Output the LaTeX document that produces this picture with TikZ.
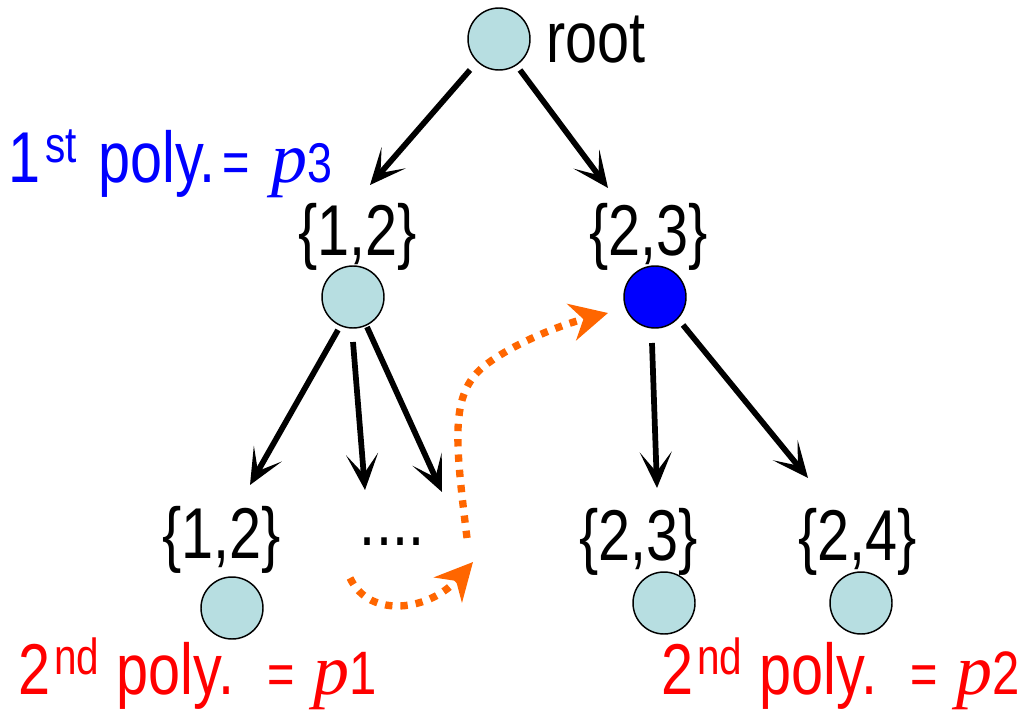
\documentclass[tikz,border=0pt]{standalone}
\usepackage{fontspec}
\setmainfont[FakeStretch=0.8]{Liberation Sans}
\newfontfamily\pfont{Liberation Serif}
\usetikzlibrary{arrows.meta,calc}
\definecolor{nodefill}{RGB}{183,222,225}
\definecolor{porange}{RGB}{255,102,0}
\definecolor{pblue}{RGB}{0,0,255}
\definecolor{pred}{RGB}{255,0,0}
\newcommand{\bigtxt}{\fontsize{54}{60}\selectfont}
\newcommand{\suptxt}[1]{\raisebox{15pt}{\fontsize{38}{38}\selectfont #1}}
\newcommand{\midtxt}[2]{{\fontsize{#1}{#1}\selectfont #2}}
\newcommand{\pvar}{{\pfont\itshape p}}
\begin{document}
\begin{tikzpicture}[x=0.75pt,y=-0.75pt,
  vert/.style={circle,draw=black,line width=1.1pt,fill=nodefill,minimum size=46.5pt,inner sep=0pt},
  setlabel/.style={anchor=base,inner sep=0pt,font=\bigtxt},
  polylabel/.style={anchor=base west,inner sep=0pt,font=\bigtxt},
  treearrow/.style={line width=4.3pt,-{Stealth[length=27pt,width=24pt,inset=15pt]}},
  hop/.style={porange,line width=5.5pt,dash pattern=on 5.5pt off 6pt,-{Stealth[length=28pt,width=28pt,inset=9pt]}},
]
\useasboundingbox (0,0) rectangle (1020,713);

% vertices
\node[vert] (root) at (499,39) {};
\node[vert] (c12) at (353,297) {};
\node[vert,fill=pblue] (cB) at (655,297) {};
\node[vert] (c12b) at (232,608) {};
\node[vert] (c23b) at (664,603) {};
\node[vert] (c24b) at (861,603) {};

% labels
\node[polylabel] (rootl) at (546,63) {root};
\node[setlabel] (l12) at (357.5,255) {\{1,2\}};
\node[setlabel] (l23) at (648.5,255) {\{2,3\}};
\node[setlabel] (l12b) at (221.5,558) {\{1,2\}};
\node[setlabel] (dots) at (392,545) {....};
\node[setlabel] (l23b) at (638.5,560) {\{2,3\}};
\node[setlabel] (l24b) at (857.5,560) {\{2,4\}};

\node[polylabel,text=pblue] (first) at (8,182) {1\hspace{4pt}\suptxt{st}\hspace{16pt}poly.\hspace{5pt}\midtxt{44}{=}\hspace{16pt}\pvar\midtxt{42}{3}};
\node[polylabel,text=pred] (secondA) at (18,694) {2\hspace{3pt}\suptxt{nd}\hspace{13pt}poly.\hspace{25pt}\midtxt{44}{=}\hspace{14pt}\pvar\midtxt{46}{1}};
\node[polylabel,text=pred] (secondB) at (661,694) {2\hspace{3pt}\suptxt{nd}\hspace{13pt}poly.\hspace{25pt}\midtxt{44}{=}\hspace{14pt}\pvar\midtxt{46}{2}};

% tree edges
\draw[treearrow] ([shift={(-29,31)}]root.center) -- ([shift={(12.5,-70)}]l12.base);
\draw[treearrow] ([shift={(21,31)}]root.center) -- ([shift={(-40.5,-67)}]l23.base);
\draw[treearrow] ([shift={(-15,33)}]c12.center) -- ([shift={(28.5,-73)}]l12b.base);
\draw[treearrow] ([shift={(0,45)}]c12.center) -- ([shift={(-27,-55)}]dots.base);
\draw[treearrow] ([shift={(14,30)}]c12.center) -- ([shift={(50,-53)}]dots.base);
\draw[treearrow] ([shift={(-3,46)}]cB.center) -- ([shift={(18.5,-72)}]l23b.base);
\draw[treearrow] ([shift={(28,28)}]cB.center) -- ([shift={(-49.5,-82)}]l24b.base);

% orange hops
\coordinate (hopA) at ([shift={(-42,33)}]dots.base);
\coordinate (hopB) at ([shift={(81,17)}]dots.base);
\coordinate (hopC) at ([shift={(75,-7)}]dots.base);
\coordinate (hopM) at (483,367);
\draw[hop] (hopA) .. controls (370,620) and (430,610) .. (hopB);
\draw[hop] (hopC) .. controls (455,440) and (450,395) .. (hopM)
  .. controls (510,345) and (560,325) .. ([shift={(-47,16)}]cB.center);
\end{tikzpicture}
\end{document}
